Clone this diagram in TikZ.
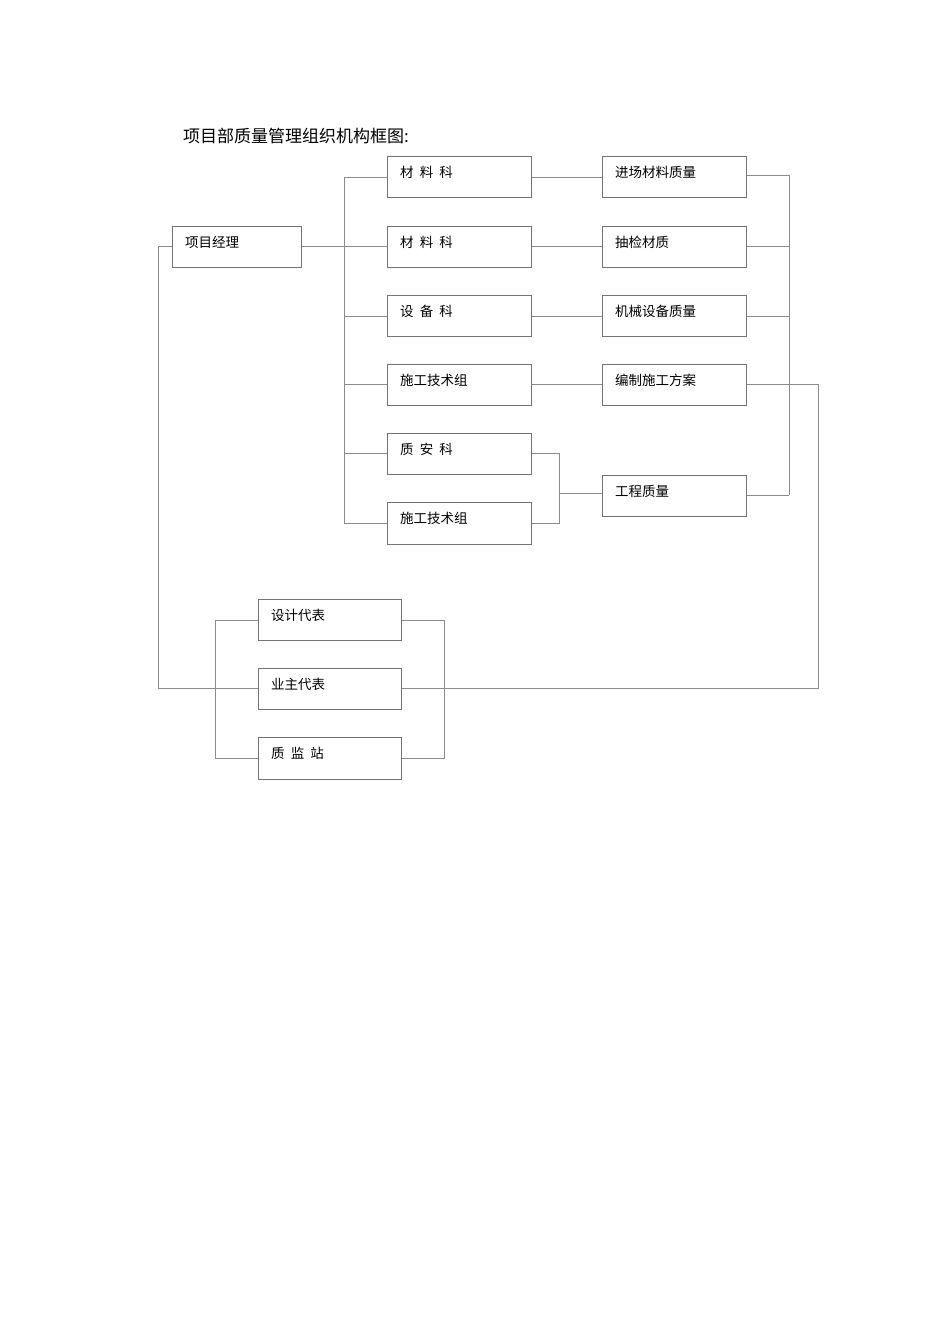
\documentclass[tikz,border=0pt]{standalone}
\usepackage{fontspec}
\newfontfamily\cjk{Noto Sans CJK SC}
\begin{document}
\begin{tikzpicture}[x=1pt,y=-1pt,
  ln/.style={draw=black!45,line width=0.8pt},
  bx/.style={draw=black!55,line width=0.8pt,fill=white},
  tx/.style={anchor=west,font=\cjk\fontsize{13.5}{15}\selectfont,inner sep=0pt}]
\useasboundingbox (0,0) rectangle (950,1344);
\node[tx,font=\cjk\fontsize{17}{19}\selectfont] (title) at (183,136) {项目部质量管理组织机构框图:};
% boxes
\newcommand\bx[6]{\draw[bx] (#2,#3) rectangle (#4,#5); \coordinate (#1L) at (#2,{(#3+#5)/2}); \coordinate (#1R) at (#4,{(#3+#5)/2}); \node[tx] (#1) at (#2+13,#3+16) {#6};}
% connectors first
\coordinate (pmL) at (172,246); \coordinate (pmR) at (301,246);
\coordinate (b1) at (344,177); \coordinate (b2) at (344,523);
\draw[ln] (pmR) -- (344,246);
\draw[ln] (b1) -- (b2);
\foreach \y in {177,246,316,384,453,523} \draw[ln] (344,\y) -- (387,\y);
\foreach \y in {177,246,316,384} \draw[ln] (531,\y) -- (602,\y);
\draw[ln] (531,453) -- (559,453) -- (559,523) -- (531,523);
\draw[ln] (559,493) -- (602,493);
\draw[ln] (789,175) -- (789,495);
\foreach \y in {175,246,316,495} \draw[ln] (746,\y) -- (789,\y);
\draw[ln] (746,384) -- (818,384) -- (818,688) -- (401,688);
\draw[ln] (pmL) -- (158,246) -- (158,688) -- (258,688);
\draw[ln] (258,620) -- (215,620) -- (215,758) -- (258,758);
\draw[ln] (401,620) -- (444,620) -- (444,758) -- (401,758);
% boxes
\bx{pm}{172}{226}{301}{267}{项目经理}
\bx{c1}{387}{156}{531}{197}{材\ \ 料\ \ 科}
\bx{c2}{387}{226}{531}{267}{材\ \ 料\ \ 科}
\bx{c3}{387}{295}{531}{336}{设\ \ 备\ \ 科}
\bx{c4}{387}{364}{531}{405}{施工技术组}
\bx{c5}{387}{433}{531}{474}{质\ \ 安\ \ 科}
\bx{c6}{387}{502}{531}{544}{施工技术组}
\bx{d1}{602}{156}{746}{197}{进场材料质量}
\bx{d2}{602}{226}{746}{267}{抽检材质}
\bx{d3}{602}{295}{746}{336}{机械设备质量}
\bx{d4}{602}{364}{746}{405}{编制施工方案}
\bx{d5}{602}{475}{746}{516}{工程质量}
\bx{e1}{258}{599}{401}{640}{设计代表}
\bx{e2}{258}{668}{401}{709}{业主代表}
\bx{e3}{258}{737}{401}{779}{质\ \ 监\ \ 站}
\end{tikzpicture}
\end{document}
